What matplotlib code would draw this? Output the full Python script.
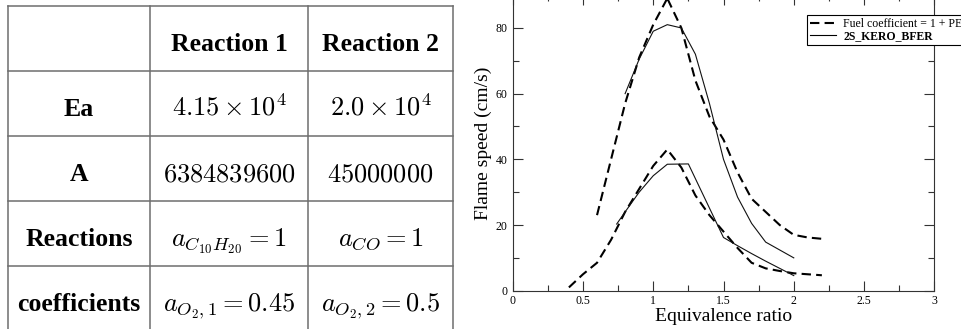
import matplotlib
matplotlib.use("Agg")
import matplotlib.pyplot as plt
from matplotlib.ticker import MultipleLocator, FormatStrFormatter
from matplotlib.lines import Line2D

plt.rcParams['mathtext.fontset'] = 'cm'
serif = ['Liberation Serif', 'DejaVu Serif']

# ---- table content ----
col_headers = ["", "Reaction 1", "Reaction 2"]
row_labels = ["Ea", "A", "Reactions", "coefficients"]
reaction1 = [r"$4.15\times10^4$", r"$6384839600$", r"$a_{C_{10}H_{20}}=1$", r"$a_{O_2,1}=0.45$"]
reaction2 = [r"$2.0\times10^4$", r"$45000000$", r"$a_{CO}=1$", r"$a_{O_2,2}=0.5$"]

# ---- flame speed curves ----
phi_dash_hi = [0.6, 0.7, 0.8, 0.9, 1.0, 1.1, 1.2, 1.3, 1.4, 1.5, 1.6, 1.7, 1.8, 1.9, 2.0, 2.1, 2.2]
sl_dash_hi = [23, 40, 57, 71, 81, 89, 80, 64, 53, 46, 36, 28, 24, 20, 17, 16.2, 15.8]
phi_solid_hi = [0.8, 0.9, 1.0, 1.1, 1.2, 1.3, 1.4, 1.5, 1.6, 1.7, 1.8, 1.9, 2.0]
sl_solid_hi = [60, 70.5, 79, 81, 80, 72, 57, 40, 28.5, 20.5, 14.8, 12.4, 10]
phi_dash_lo = [0.4, 0.5, 0.6, 0.7, 0.8, 0.9, 1.0, 1.1, 1.2, 1.3, 1.4, 1.5, 1.6, 1.7, 1.8, 1.9, 2.0, 2.1, 2.2]
sl_dash_lo = [1, 5, 8.5, 15.5, 24, 31, 38, 43, 37.5, 29, 23, 18, 13, 8.5, 6.8, 6, 5.3, 5, 4.7]
phi_solid_lo = [0.74, 0.8, 0.9, 1.0, 1.1, 1.25, 1.5, 1.6, 1.7, 1.8, 1.9, 2.0]
sl_solid_lo = [20.3, 24, 30, 35, 38.5, 38.6, 16.2, 13.7, 11.3, 9, 6.8, 4.6]

legend_labels = ["Fuel coefficient = 1 + PEA", "2S_KERO_BFER"]

W, H = 962, 329
fig = plt.figure(figsize=(W / 100, H / 100), dpi=100)

# table drawn in pixel coordinates
tab = fig.add_axes([0, 0, 1, 1])
tab.set_xlim(0, W)
tab.set_ylim(H, 0)
tab.axis('off')
col_x = [8, 150, 308, 453]
row_y = [6, 71, 136, 201, 266, 331]
grid_kw = dict(color='#6e6e6e', lw=1.1, clip_on=False)
for x in col_x:
    tab.plot([x, x], [row_y[0], row_y[-1]], **grid_kw)
for y in row_y:
    tab.plot([col_x[0], col_x[-1]], [y, y], **grid_kw)

centers = [(col_x[i] + col_x[i + 1]) / 2 for i in range(3)]
for j, h in enumerate(col_headers):
    tab.text(centers[j], row_y[0] + 45, h, ha='center', va='baseline',
             family=serif, weight='bold', fontsize=18.5)
for i, lab in enumerate(row_labels):
    base = row_y[i + 1] + 45
    tab.text(centers[0], base, lab, ha='center', va='baseline',
             family=serif, weight='bold', fontsize=18.5)
    tab.text(centers[1], base, reaction1[i], ha='center', va='baseline', fontsize=19)
    tab.text(centers[2], base, reaction2[i], ha='center', va='baseline', fontsize=19)

# flame speed plot
ax = fig.add_axes([512.7 / W, 38.3 / H, 421.6 / W, 295.6 / H])
dash = (0, (4.5, 2.5))
ax.plot(phi_dash_hi, sl_dash_hi, color='black', lw=1.5, linestyle=dash)
ax.plot(phi_solid_hi, sl_solid_hi, color='#111111', lw=0.8)
ax.plot(phi_dash_lo, sl_dash_lo, color='black', lw=1.5, linestyle=dash)
ax.plot(phi_solid_lo, sl_solid_lo, color='#111111', lw=0.8)

ax.set_xlim(0, 3)
ax.set_ylim(0, 90)
ax.xaxis.set_major_locator(MultipleLocator(0.5))
ax.xaxis.set_minor_locator(MultipleLocator(0.25))
ax.yaxis.set_major_locator(MultipleLocator(20))
ax.yaxis.set_minor_locator(MultipleLocator(10))
ax.xaxis.set_major_formatter(FormatStrFormatter('%g'))
ax.tick_params(which='both', direction='in', top=True, right=True,
               width=0.8, color='#333333')
ax.tick_params(which='major', length=7, labelsize=8.5)
ax.tick_params(axis='x', which='major', pad=3)
ax.tick_params(which='minor', length=4)
for lab in ax.get_xticklabels() + ax.get_yticklabels():
    lab.set_family(serif)
for s in ax.spines.values():
    s.set_linewidth(0.8)
    s.set_color('#333333')
ax.set_xlabel("Equivalence ratio", family=serif, fontsize=14, labelpad=1)
ax.set_ylabel("Flame speed (cm/s)", family=serif, fontsize=14, labelpad=3)

handles = [Line2D([], [], color='black', lw=1.5, linestyle=dash),
           Line2D([], [], color='black', lw=0.8)]
leg = fig.legend(handles, legend_labels, loc='upper left',
                 bbox_to_anchor=(807 / W, 1 - 15 / H), borderaxespad=0,
                 fancybox=False, edgecolor='black', framealpha=1,
                 prop={'family': serif, 'size': 8.5}, handlelength=2.2,
                 handletextpad=0.6, borderpad=0.25, labelspacing=0.05)
leg.get_frame().set_linewidth(0.8)
leg.get_texts()[1].set_weight('bold')

fig.savefig("out.png", dpi=100)
